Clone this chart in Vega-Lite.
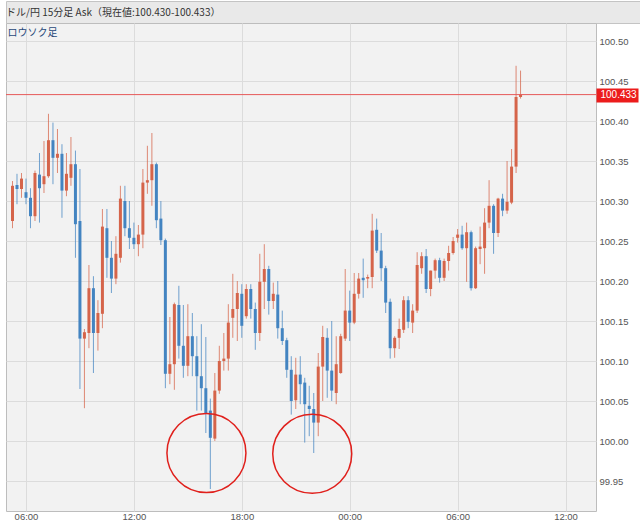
{
"$schema": "https://vega.github.io/schema/vega-lite/v6.json",
"padding": {"left": 5, "top": 0, "right": 0, "bottom": 0},
"background": "#ffffff",
"spacing": 0,
"bounds": "flush",
"config": {"view": {"fill": "#f2f2f2", "stroke": "#bdbdbd"}},
"datasets": {"candles": [
{"t":"2013-06-17T05:15","open":100.275,"high":100.325,"low":100.266,"close":100.319},
{"t":"2013-06-17T05:30","open":100.320,"high":100.334,"low":100.296,"close":100.315},
{"t":"2013-06-17T05:45","open":100.315,"high":100.335,"low":100.304,"close":100.328},
{"t":"2013-06-17T06:00","open":100.311,"high":100.328,"low":100.296,"close":100.304},
{"t":"2013-06-17T06:15","open":100.304,"high":100.316,"low":100.266,"close":100.281},
{"t":"2013-06-17T06:30","open":100.281,"high":100.338,"low":100.275,"close":100.335},
{"t":"2013-06-17T06:45","open":100.333,"high":100.360,"low":100.273,"close":100.316},
{"t":"2013-06-17T07:00","open":100.321,"high":100.375,"low":100.310,"close":100.331},
{"t":"2013-06-17T07:15","open":100.331,"high":100.409,"low":100.329,"close":100.376},
{"t":"2013-06-17T07:30","open":100.376,"high":100.398,"low":100.321,"close":100.354},
{"t":"2013-06-17T07:45","open":100.354,"high":100.390,"low":100.335,"close":100.359},
{"t":"2013-06-17T08:00","open":100.359,"high":100.371,"low":100.279,"close":100.313},
{"t":"2013-06-17T08:15","open":100.313,"high":100.360,"low":100.306,"close":100.334},
{"t":"2013-06-17T08:30","open":100.329,"high":100.380,"low":100.319,"close":100.346},
{"t":"2013-06-17T08:45","open":100.346,"high":100.363,"low":100.229,"close":100.271},
{"t":"2013-06-17T09:00","open":100.275,"high":100.340,"low":100.065,"close":100.128},
{"t":"2013-06-17T09:15","open":100.128,"high":100.140,"low":100.041,"close":100.136},
{"t":"2013-06-17T09:30","open":100.135,"high":100.220,"low":100.116,"close":100.191},
{"t":"2013-06-17T09:45","open":100.191,"high":100.206,"low":100.085,"close":100.135},
{"t":"2013-06-17T10:00","open":100.135,"high":100.176,"low":100.113,"close":100.160},
{"t":"2013-06-17T10:15","open":100.159,"high":100.290,"low":100.141,"close":100.268},
{"t":"2013-06-17T10:30","open":100.266,"high":100.290,"low":100.204,"close":100.229},
{"t":"2013-06-17T10:45","open":100.229,"high":100.250,"low":100.185,"close":100.203},
{"t":"2013-06-17T11:00","open":100.203,"high":100.256,"low":100.196,"close":100.234},
{"t":"2013-06-17T11:15","open":100.229,"high":100.319,"low":100.223,"close":100.303},
{"t":"2013-06-17T11:30","open":100.300,"high":100.319,"low":100.256,"close":100.266},
{"t":"2013-06-17T11:45","open":100.266,"high":100.300,"low":100.240,"close":100.254},
{"t":"2013-06-17T12:00","open":100.254,"high":100.273,"low":100.240,"close":100.246},
{"t":"2013-06-17T12:15","open":100.246,"high":100.270,"low":100.231,"close":100.258},
{"t":"2013-06-17T12:30","open":100.258,"high":100.340,"low":100.241,"close":100.323},
{"t":"2013-06-17T12:45","open":100.323,"high":100.369,"low":100.309,"close":100.326},
{"t":"2013-06-17T13:00","open":100.326,"high":100.385,"low":100.294,"close":100.346},
{"t":"2013-06-17T13:15","open":100.346,"high":100.348,"low":100.266,"close":100.276},
{"t":"2013-06-17T13:30","open":100.278,"high":100.300,"low":100.245,"close":100.251},
{"t":"2013-06-17T13:45","open":100.251,"high":100.253,"low":100.066,"close":100.084},
{"t":"2013-06-17T14:00","open":100.084,"high":100.155,"low":100.071,"close":100.096},
{"t":"2013-06-17T14:15","open":100.096,"high":100.173,"low":100.064,"close":100.171},
{"t":"2013-06-17T14:30","open":100.170,"high":100.194,"low":100.103,"close":100.119},
{"t":"2013-06-17T14:45","open":100.119,"high":100.170,"low":100.079,"close":100.094},
{"t":"2013-06-17T15:00","open":100.094,"high":100.171,"low":100.081,"close":100.131},
{"t":"2013-06-17T15:15","open":100.131,"high":100.160,"low":100.081,"close":100.106},
{"t":"2013-06-17T15:30","open":100.106,"high":100.131,"low":100.038,"close":100.081},
{"t":"2013-06-17T15:45","open":100.081,"high":100.146,"low":100.038,"close":100.066},
{"t":"2013-06-17T16:00","open":100.066,"high":100.130,"low":100.010,"close":100.035},
{"t":"2013-06-17T16:15","open":100.038,"high":100.053,"low":99.940,"close":100.004},
{"t":"2013-06-17T16:30","open":100.003,"high":100.085,"low":100.000,"close":100.063},
{"t":"2013-06-17T16:45","open":100.063,"high":100.119,"low":100.059,"close":100.100},
{"t":"2013-06-17T17:00","open":100.100,"high":100.135,"low":100.088,"close":100.103},
{"t":"2013-06-17T17:15","open":100.103,"high":100.171,"low":100.088,"close":100.148},
{"t":"2013-06-17T17:30","open":100.154,"high":100.209,"low":100.129,"close":100.165},
{"t":"2013-06-17T17:45","open":100.165,"high":100.200,"low":100.125,"close":100.185},
{"t":"2013-06-17T18:00","open":100.184,"high":100.196,"low":100.129,"close":100.144},
{"t":"2013-06-17T18:15","open":100.156,"high":100.196,"low":100.153,"close":100.190},
{"t":"2013-06-17T18:30","open":100.190,"high":100.196,"low":100.153,"close":100.165},
{"t":"2013-06-17T18:45","open":100.165,"high":100.173,"low":100.114,"close":100.135},
{"t":"2013-06-17T19:00","open":100.135,"high":100.234,"low":100.125,"close":100.199},
{"t":"2013-06-17T19:15","open":100.199,"high":100.246,"low":100.165,"close":100.215},
{"t":"2013-06-17T19:30","open":100.215,"high":100.219,"low":100.158,"close":100.175},
{"t":"2013-06-17T19:45","open":100.175,"high":100.198,"low":100.165,"close":100.184},
{"t":"2013-06-17T20:00","open":100.183,"high":100.200,"low":100.128,"close":100.141},
{"t":"2013-06-17T20:15","open":100.141,"high":100.163,"low":100.120,"close":100.125},
{"t":"2013-06-17T20:30","open":100.126,"high":100.129,"low":100.079,"close":100.089},
{"t":"2013-06-17T20:45","open":100.089,"high":100.106,"low":100.033,"close":100.050},
{"t":"2013-06-17T21:00","open":100.051,"high":100.104,"low":100.040,"close":100.083},
{"t":"2013-06-17T21:15","open":100.083,"high":100.106,"low":100.046,"close":100.071},
{"t":"2013-06-17T21:30","open":100.073,"high":100.079,"low":99.998,"close":100.046},
{"t":"2013-06-17T21:45","open":100.044,"high":100.069,"low":100.006,"close":100.040},
{"t":"2013-06-17T22:00","open":100.040,"high":100.060,"low":99.985,"close":100.023},
{"t":"2013-06-17T22:15","open":100.023,"high":100.110,"low":100.006,"close":100.093},
{"t":"2013-06-17T22:30","open":100.093,"high":100.144,"low":100.050,"close":100.130},
{"t":"2013-06-17T22:45","open":100.129,"high":100.141,"low":100.054,"close":100.088},
{"t":"2013-06-17T23:00","open":100.088,"high":100.150,"low":100.050,"close":100.063},
{"t":"2013-06-17T23:15","open":100.060,"high":100.131,"low":100.046,"close":100.096},
{"t":"2013-06-17T23:30","open":100.085,"high":100.134,"low":100.084,"close":100.131},
{"t":"2013-06-17T23:45","open":100.128,"high":100.215,"low":100.125,"close":100.163},
{"t":"2013-06-18T00:00","open":100.163,"high":100.188,"low":100.125,"close":100.148},
{"t":"2013-06-18T00:15","open":100.148,"high":100.210,"low":100.146,"close":100.184},
{"t":"2013-06-18T00:30","open":100.184,"high":100.210,"low":100.178,"close":100.203},
{"t":"2013-06-18T00:45","open":100.204,"high":100.228,"low":100.179,"close":100.201},
{"t":"2013-06-18T01:00","open":100.203,"high":100.208,"low":100.191,"close":100.205},
{"t":"2013-06-18T01:15","open":100.205,"high":100.284,"low":100.191,"close":100.263},
{"t":"2013-06-18T01:30","open":100.264,"high":100.278,"low":100.235,"close":100.238},
{"t":"2013-06-18T01:45","open":100.238,"high":100.260,"low":100.200,"close":100.216},
{"t":"2013-06-18T02:00","open":100.216,"high":100.219,"low":100.160,"close":100.173},
{"t":"2013-06-18T02:15","open":100.174,"high":100.178,"low":100.103,"close":100.116},
{"t":"2013-06-18T02:30","open":100.116,"high":100.131,"low":100.104,"close":100.129},
{"t":"2013-06-18T02:45","open":100.129,"high":100.153,"low":100.115,"close":100.140},
{"t":"2013-06-18T03:00","open":100.139,"high":100.181,"low":100.135,"close":100.176},
{"t":"2013-06-18T03:15","open":100.176,"high":100.181,"low":100.141,"close":100.149},
{"t":"2013-06-18T03:30","open":100.148,"high":100.171,"low":100.135,"close":100.163},
{"t":"2013-06-18T03:45","open":100.163,"high":100.236,"low":100.160,"close":100.220},
{"t":"2013-06-18T04:00","open":100.216,"high":100.236,"low":100.209,"close":100.231},
{"t":"2013-06-18T04:15","open":100.231,"high":100.240,"low":100.185,"close":100.190},
{"t":"2013-06-18T04:30","open":100.190,"high":100.213,"low":100.181,"close":100.213},
{"t":"2013-06-18T04:45","open":100.213,"high":100.228,"low":100.203,"close":100.226},
{"t":"2013-06-18T05:00","open":100.226,"high":100.229,"low":100.198,"close":100.204},
{"t":"2013-06-18T05:15","open":100.204,"high":100.228,"low":100.200,"close":100.225},
{"t":"2013-06-18T05:30","open":100.225,"high":100.244,"low":100.213,"close":100.235},
{"t":"2013-06-18T05:45","open":100.235,"high":100.255,"low":100.233,"close":100.250},
{"t":"2013-06-18T06:00","open":100.254,"high":100.265,"low":100.248,"close":100.258},
{"t":"2013-06-18T06:15","open":100.258,"high":100.269,"low":100.239,"close":100.241},
{"t":"2013-06-18T06:30","open":100.241,"high":100.273,"low":100.199,"close":100.261},
{"t":"2013-06-18T06:45","open":100.261,"high":100.263,"low":100.188,"close":100.191},
{"t":"2013-06-18T07:00","open":100.191,"high":100.243,"low":100.190,"close":100.241},
{"t":"2013-06-18T07:15","open":100.240,"high":100.268,"low":100.221,"close":100.243},
{"t":"2013-06-18T07:30","open":100.241,"high":100.291,"low":100.209,"close":100.273},
{"t":"2013-06-18T07:45","open":100.273,"high":100.326,"low":100.266,"close":100.294},
{"t":"2013-06-18T08:00","open":100.294,"high":100.296,"low":100.234,"close":100.260},
{"t":"2013-06-18T08:15","open":100.260,"high":100.304,"low":100.255,"close":100.303},
{"t":"2013-06-18T08:30","open":100.303,"high":100.309,"low":100.281,"close":100.288},
{"t":"2013-06-18T08:45","open":100.288,"high":100.350,"low":100.284,"close":100.299},
{"t":"2013-06-18T09:00","open":100.298,"high":100.365,"low":100.296,"close":100.343},
{"t":"2013-06-18T09:15","open":100.343,"high":100.469,"low":100.335,"close":100.430},
{"t":"2013-06-18T09:30","open":100.430,"high":100.463,"low":100.428,"close":100.433}
],
"marks": [{"t": "2013-06-17T16:02", "price": 99.985}, {"t": "2013-06-17T21:55", "price": 99.984}],
"current": [{"price": 100.433}],
"header": []
},
"vconcat": [
{"width": 635, "height": 22,
 "data": {"name": "header"},
 "view": {"fill": "#e9e9e9", "stroke": "#c4c4c4"},
 "title": {"text": "ドル/円 15分足 Ask（現在値:100.430-100.433）", "anchor": "start", "offset": -17, "font": "Noto Sans CJK JP", "fontSize": 10, "fontWeight": "normal", "color": "#333333"},
 "mark": "point"
},
{"width": 590, "height": 488,
 "title": {"text": "ロウソク足", "anchor": "start", "offset": -15, "dx": 2, "font": "Noto Sans CJK JP", "fontSize": 10, "fontWeight": "normal", "color": "#27497a"},
 "layer": [
 {"data": {"name": "candles"},
  "mark": {"type": "rule", "strokeWidth": 1, "opacity": 0.75},
  "encoding": {
   "x": {"field": "t", "type": "temporal",
    "scale": {"domain": [{"year": 2013, "month": 6, "date": 17, "hours": 5, "minutes": 10}, {"year": 2013, "month": 6, "date": 18, "hours": 13, "minutes": 25}]},
    "axis": {"values": [{"year": 2013, "month": 6, "date": 17, "hours": 6}, {"year": 2013, "month": 6, "date": 17, "hours": 12}, {"year": 2013, "month": 6, "date": 17, "hours": 18}, {"year": 2013, "month": 6, "date": 18, "hours": 0}, {"year": 2013, "month": 6, "date": 18, "hours": 6}, {"year": 2013, "month": 6, "date": 18, "hours": 12}],
     "format": "%H:%M", "title": null, "ticks": false, "domain": false, "grid": true, "gridColor": "#dcdcdc", "labelFont": "Liberation Sans", "labelFontSize": 9.5, "labelColor": "#555555", "labelPadding": 0, "labelFlush": false}},
   "y": {"field": "low", "type": "quantitative",
    "scale": {"domain": [99.9125, 100.5225], "nice": false, "zero": false},
    "axis": {"orient": "right", "values": [99.95, 100.0, 100.05, 100.1, 100.15, 100.2, 100.25, 100.3, 100.35, 100.4, 100.45, 100.5], "format": ".2f", "title": null, "ticks": false, "domain": false, "grid": true, "gridColor": "#dcdcdc", "labelFont": "Liberation Sans", "labelFontSize": 9.5, "labelColor": "#555555", "labelPadding": 3}},
   "y2": {"field": "high"},
   "color": {"condition": {"test": "datum.close >= datum.open", "value": "#d5644a"}, "value": "#4384c1"}
  }},
 {"data": {"name": "candles"},
  "mark": {"type": "bar", "size": 3},
  "encoding": {
   "x": {"field": "t", "type": "temporal"},
   "y": {"field": "open", "type": "quantitative", "axis": null},
   "y2": {"field": "close"},
   "color": {"condition": {"test": "datum.close >= datum.open", "value": "#d5644a"}, "value": "#4384c1"}
  }},
 {"data": {"name": "current"},
  "mark": {"type": "rule", "color": "#e65a5a", "strokeWidth": 1},
  "encoding": {
   "y": {"field": "price", "type": "quantitative",
    "axis": {"orient": "right", "values": [100.433], "format": ".3f", "title": null, "grid": false, "domain": false, "ticks": true, "tickColor": "#ec1c1c", "tickWidth": 14, "tickSize": 42, "tickCap": "butt", "labelPadding": -38, "labelColor": "#ffffff", "labelFontSize": 10, "labelAlign": "left", "labelFont": "Liberation Sans"}}
  }},
 {"data": {"name": "marks"},
  "mark": {"type": "point", "shape": "circle", "size": 6241, "filled": false, "stroke": "#e0201c", "strokeWidth": 1.5, "opacity": 1},
  "encoding": {
   "x": {"field": "t", "type": "temporal"},
   "y": {"field": "price", "type": "quantitative", "axis": null}
  }}
 ],
 "resolve": {"axis": {"y": "independent"}}
}
]
}
